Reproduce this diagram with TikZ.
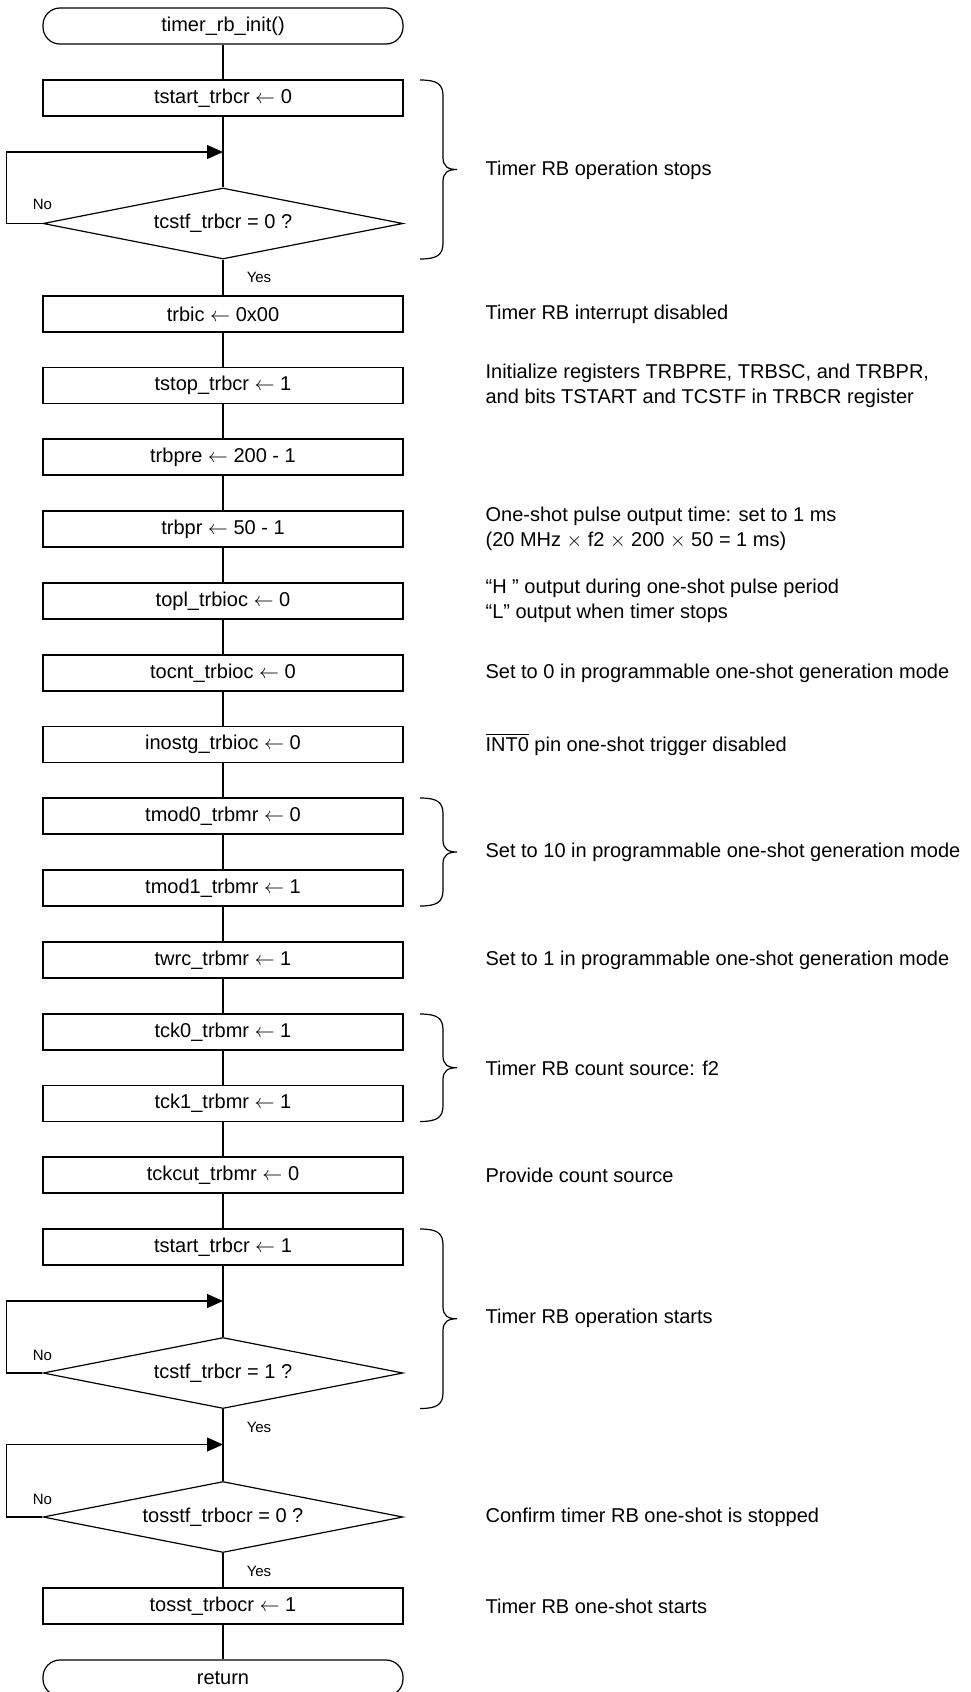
\documentclass[tikz,border=0pt]{standalone}
\usepackage{fontspec}
\setmainfont{Liberation Sans}
\usetikzlibrary{shapes.geometric,arrows.meta}
% curly bracket on the right of the flow, from y #1 to y #2
\newcommand{\notebrace}[2]{%
  \pgfmathsetmacro\bmid{(#1+#2)/2}%
  \draw (420,#1) .. controls (437,#1) and (443,#1+4) .. (443,#1+16)
    -- (443,\bmid-12) .. controls (443,\bmid-3) and (448,\bmid) .. (457,\bmid)
    .. controls (448,\bmid) and (443,\bmid+3) .. (443,\bmid+12)
    -- (443,#2-16) .. controls (443,#2-4) and (437,#2) .. (420,#2);}
\begin{document}
\begin{tikzpicture}[x=0.5pt,y=-0.5pt,line width=0.6pt,
  proc/.style={draw,minimum width=180pt,minimum height=18pt,inner sep=0pt,font=\fontsize{10}{12}\selectfont},
  term/.style={proc,rounded corners=8.5pt},
  cond/.style={draw,diamond,aspect=5,minimum width=180pt,minimum height=35.5pt,inner sep=0pt,font=\fontsize{10}{12}\selectfont},
  note/.style={anchor=west,inner sep=0pt,align=left,font=\fontsize{10}{12.5}\selectfont},
  lbl/.style={inner sep=0pt,font=\fontsize{7.5}{9}\selectfont},
  retry/.style={-{Triangle[length=8pt,width=7pt]}}]
 \useasboundingbox (0,0) rectangle (970,1692);
 % flow column
 \node[term] (start) at (223,26) {timer\_rb\_init()};
 \node[proc] (b0) at (223,98) {tstart\_trbcr $\leftarrow$ 0};
 \node[cond] (d1) at (223,223.5) {tcstf\_trbcr = 0 ?};
 \node[proc] (b1) at (223,314) {trbic $\leftarrow$ 0x00};
 \node[proc] (b2) at (223,385.5) {tstop\_trbcr $\leftarrow$ 1};
 \node[proc] (b3) at (223,457) {trbpre $\leftarrow$ 200 - 1};
 \node[proc] (b4) at (223,529) {trbpr $\leftarrow$ 50 - 1};
 \node[proc] (b5) at (223,601) {topl\_trbioc $\leftarrow$ 0};
 \node[proc] (b6) at (223,673) {tocnt\_trbioc $\leftarrow$ 0};
 \node[proc] (b7) at (223,744.5) {inostg\_trbioc $\leftarrow$ 0};
 \node[proc] (b8) at (223,816) {tmod0\_trbmr $\leftarrow$ 0};
 \node[proc] (b9) at (223,888) {tmod1\_trbmr $\leftarrow$ 1};
 \node[proc] (b10) at (223,960) {twrc\_trbmr $\leftarrow$ 1};
 \node[proc] (b11) at (223,1032) {tck0\_trbmr $\leftarrow$ 1};
 \node[proc] (b12) at (223,1103.5) {tck1\_trbmr $\leftarrow$ 1};
 \node[proc] (b13) at (223,1175) {tckcut\_trbmr $\leftarrow$ 0};
 \node[proc] (b14) at (223,1247) {tstart\_trbcr $\leftarrow$ 1};
 \node[cond] (d2) at (223,1373) {tcstf\_trbcr = 1 ?};
 \node[cond] (d3) at (223,1517) {tosstf\_trbocr = 0 ?};
 \node[proc] (b15) at (223,1606) {tosst\_trbocr $\leftarrow$ 1};
 \node[term] (ret) at (223,1678) {return};
 \coordinate (j1) at (223,152);
 \coordinate (j2) at (223,1301);
 \coordinate (j3) at (223,1444.5);
 % connectors
 \draw (start) -- (b0);
 \draw (b0) -- (d1);
 \draw (d1) -- (b1);
 \draw (b1) -- (b2);
 \draw (b2) -- (b3);
 \draw (b3) -- (b4);
 \draw (b4) -- (b5);
 \draw (b5) -- (b6);
 \draw (b6) -- (b7);
 \draw (b7) -- (b8);
 \draw (b8) -- (b9);
 \draw (b9) -- (b10);
 \draw (b10) -- (b11);
 \draw (b11) -- (b12);
 \draw (b12) -- (b13);
 \draw (b13) -- (b14);
 \draw (b14) -- (d2);
 \draw (d2) -- (d3);
 \draw (d3) -- (b15);
 \draw (b15) -- (ret);
 \draw[retry] (d1.west) -- ++(-36,0) |- (j1);
 \draw[retry] (d2.west) -- ++(-36,0) |- (j2);
 \draw[retry] (d3.west) -- ++(-36,0) |- (j3);
 % yes / no
 \node[lbl] (no1) at ([yshift=9.5pt]d1.west) {No};
 \node[lbl] (no2) at ([yshift=9pt]d2.west) {No};
 \node[lbl] (no3) at ([yshift=9pt]d3.west) {No};
 \node[lbl] (yes1) at ([xshift=18pt,yshift=-9pt]d1.south) {Yes};
 \node[lbl] (yes2) at ([xshift=18pt,yshift=-9pt]d2.south) {Yes};
 \node[lbl] (yes3) at ([xshift=18pt,yshift=-9pt]d3.south) {Yes};
 % braces
 \notebrace{80}{259}
 \notebrace{798}{906}
 \notebrace{1014}{1121.5}
 \notebrace{1229}{1408.5}
 % comments
 \node[note] (t1) at (485,170) {Timer RB operation stops};
 \node[note] (t2) at (485,314) {Timer RB interrupt disabled};
 \node[note] (t3) at (485,385.5) {Initialize registers TRBPRE, TRBSC, and TRBPR,\\and bits TSTART and TCSTF in TRBCR register};
 \node[note] (t4) at (485,529) {One-shot pulse output time: set to 1 ms\\(20 MHz $\times$ f2 $\times$ 200 $\times$ 50 = 1 ms)};
 \node[note] (t5) at (485,601) {“H ” output during one-shot pulse period\\“L” output when timer stops};
 \node[note] (t6) at (485,673) {Set to 0 in programmable one-shot generation mode};
 \node[note] (t7) at (485,744.5) {$\overline{\hbox{INT0}}$ pin one-shot trigger disabled};
 \node[note] (t8) at (485,852) {Set to 10 in programmable one-shot generation mode};
 \node[note] (t9) at (485,960) {Set to 1 in programmable one-shot generation mode};
 \node[note] (t10) at (485,1068) {Timer RB count source: f2};
 \node[note] (t11) at (485,1175) {Provide count source};
 \node[note] (t12) at (485,1318.5) {Timer RB operation starts};
 \node[note] (t13) at (485,1517) {Confirm timer RB one-shot is stopped};
 \node[note] (t14) at (485,1606) {Timer RB one-shot starts};
\end{tikzpicture}
\end{document}
